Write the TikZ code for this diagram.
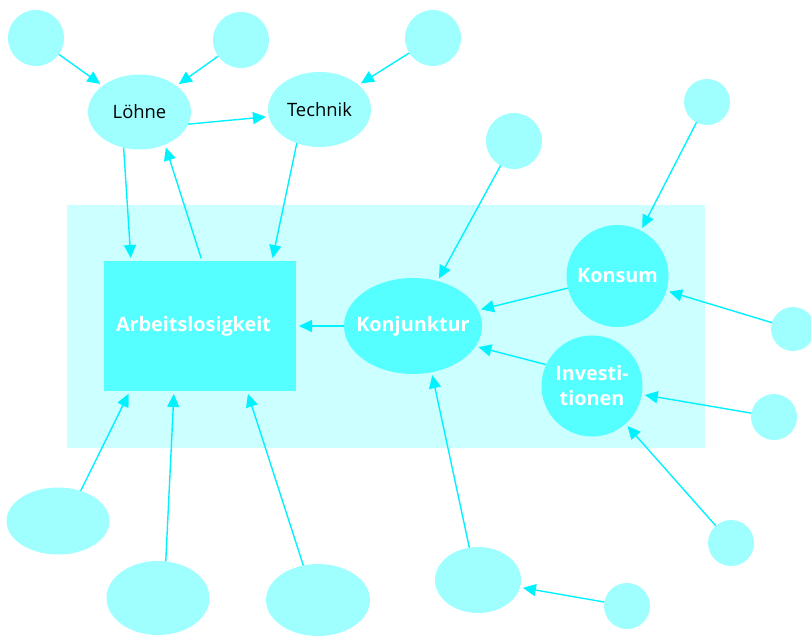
\documentclass[tikz,border=0pt]{standalone}
\usepackage{fontspec}
\setmainfont{Open Sans}
\usetikzlibrary{arrows.meta,shapes.geometric,calc}
\definecolor{lightc}{HTML}{9FFFFF}
\definecolor{bgc}{HTML}{CCFFFF}
\definecolor{midc}{HTML}{55FFFF}
\definecolor{arrc}{HTML}{00F2FF}
\begin{document}
\begin{tikzpicture}[x=1pt,y=-1pt,
  ball/.style={circle,fill=lightc,inner sep=0pt,outer sep=0pt,minimum size=#1},
  oval/.style n args={2}{ellipse,fill=lightc,inner sep=0pt,outer sep=0pt,minimum width=#1,minimum height=#2},
  blacktxt/.style={font=\fontsize{18.4}{22}\selectfont,text=black},
  whitetxt/.style={font=\fontsize{19.8}{25}\selectfont\bfseries,text=white,align=center,inner sep=0pt},
  arr/.style={draw=arrc,line width=1.4pt,-{Triangle[length=13pt,width=12pt]},shorten >=3pt}]
\useasboundingbox (0,0) rectangle (811,635);
% background
\fill[bgc] (67,205) rectangle (705,448);
% core nodes
\node[fill=midc,minimum width=192pt,minimum height=130pt,inner sep=0pt,outer sep=0pt] (arb) at (200,326) {};
\node[whitetxt] (arbtxt) at (193.5,326) {Arbeitslosigkeit};
\node[ellipse,fill=midc,minimum width=138pt,minimum height=96pt,inner sep=0pt,outer sep=0pt] (konj) at (413,326) {};
\node[whitetxt] (konjtxt) at (konj.center) {Konjunktur};
\node[circle,fill=midc,minimum size=102pt,inner sep=0pt,outer sep=0pt] (kons) at (617.5,276) {};
\node[whitetxt] (konstxt) at (kons.center) {Konsum};
\node[circle,fill=midc,minimum size=101pt,inner sep=0pt,outer sep=0pt] (inv) at (592,386) {};
\node[whitetxt] (invtxt) at (inv.center) {Investi-\\tionen};
% upper nodes
\node[oval={103pt}{75pt},blacktxt] (loehne) at (139.5,112) {Löhne};
\node[oval={103pt}{75pt},blacktxt] (technik) at (319.5,109.5) {Technik};
% outer circles
\node[ball=56pt] (c1) at (36,38) {};
\node[ball=56pt] (c2) at (241,40) {};
\node[ball=56pt] (c3) at (433,38) {};
\node[ball=56pt] (c4) at (514,141) {};
\node[ball=46pt] (c5) at (707,102) {};
\node[ball=44pt] (c6) at (793,329) {};
\node[ball=46pt] (c7) at (774,417) {};
\node[ball=46pt] (c8) at (731,543) {};
\node[ball=46pt] (c9) at (627,606) {};
\node[oval={86pt}{66pt}] (b4) at (478,580) {};
\node[oval={103pt}{67pt}] (e1) at (58,521) {};
\node[oval={103pt}{74pt}] (e2) at (158,598) {};
\node[oval={104pt}{72pt}] (e3) at (318,600) {};
% arrows
\draw[arr] (c1) -- (loehne);
\draw[arr] (c2) -- (loehne);
\draw[arr] (c3) -- (technik);
\draw[arr] (loehne.-14) -- (technik.-172);
\draw[arr] (loehne.-114) -- ($(arb.north west)+(27,0)$);
\draw[arr,shorten <=3pt] ($(arb.north)+(2,0)$) -- (loehne.-52);
\draw[arr] (technik.-124) -- ($(arb.north east)+(-24,0)$);
\draw[arr] (c4) -- (konj);
\draw[arr] (c5) -- (kons);
\draw[arr] (kons) -- (konj);
\draw[arr] (c6) -- (kons);
\draw[arr] (inv.155) -- (konj.-18);
\draw[arr] (c7) -- (inv);
\draw[arr] (c8) -- (inv);
\draw[arr] (konj.west) -- (arb.east);
\draw[arr] (b4.105) -- (konj.-68);
\draw[arr] (c9) -- (b4);
\draw[arr] (e1.53) -- ($(arb.south west)+(26,0)$);
\draw[arr] (e2.78) -- ($(arb.south west)+(70,0)$);
\draw[arr] (e3.113) -- ($(arb.south east)+(-49,0)$);
\end{tikzpicture}
\end{document}
